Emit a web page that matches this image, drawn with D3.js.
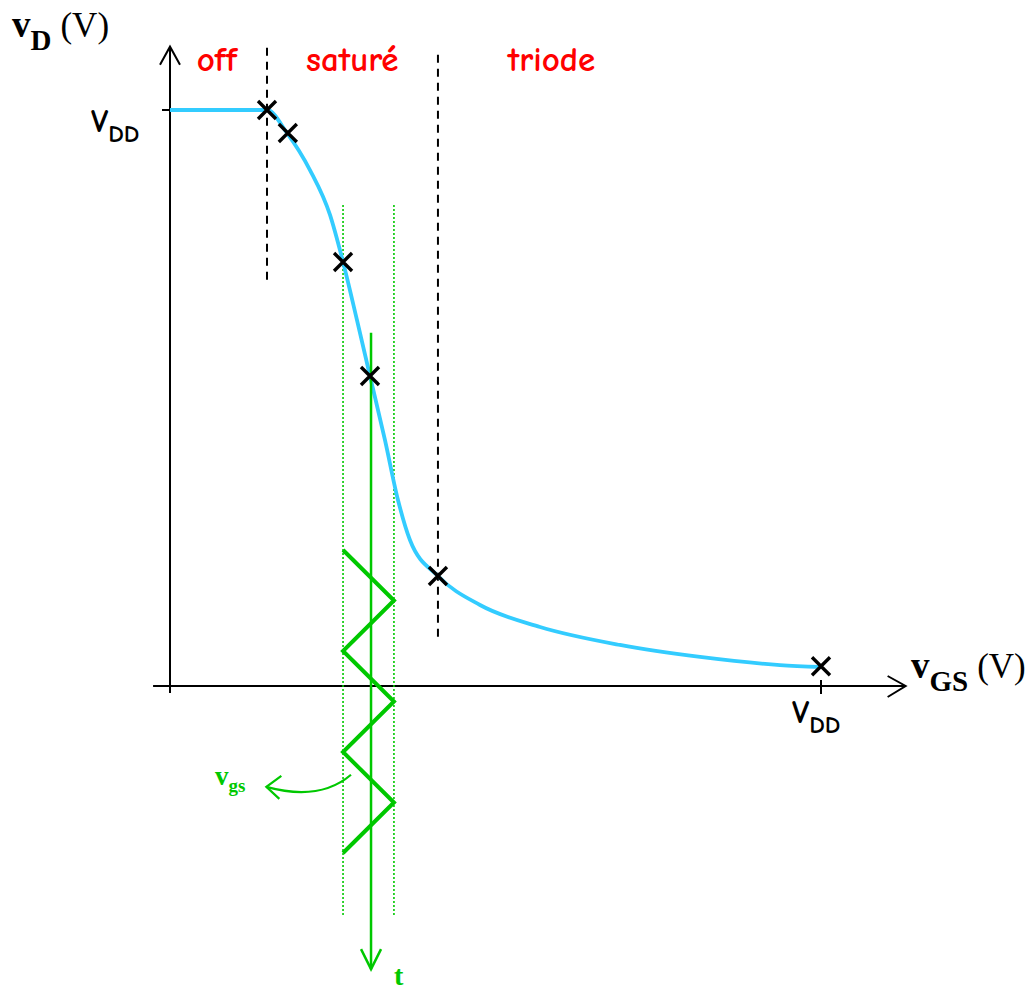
<!DOCTYPE html>
<html>
<head>
<meta charset="utf-8">
<script src="https://cdn.jsdelivr.net/npm/d3@7"></script>
<style>
  html, body { margin: 0; padding: 0; background: #fff; }
  svg { display: block; }
</style>
</head>
<body>
<script>
// Transfer characteristic vD(vGS) of an NMOS inverter, VDD = 5 V
const VDD = 5;
const curveVGS = [0, 0.745, 0.899, 1.075, 1.229, 1.329, 1.436, 1.536, 1.651, 1.751, 1.843, 2.058, 2.381, 2.842, 3.456, 4.071, 4.685, 5.0];
const curveVD  = [5, 5, 4.80, 4.479, 4.089, 3.681, 3.177, 2.691, 2.135, 1.615, 1.267, 0.955, 0.703, 0.512, 0.356, 0.252, 0.182, 0.165];
// Marked operating points
const markVGS = [0.745, 0.905, 1.329, 1.536, 2.058, 5.0];
const markVD  = [5, 4.80, 3.681, 2.691, 0.955, 0.172];
// Region boundaries and labels
const regionNames = ["off", "saturé", "triode"];
const regionLabelVGS = [0.36, 1.40, 2.93];
const boundaryVGS = [0.745, 2.058];
const boundaryTop = [5.54, 5.48];
const boundaryBottom = [3.48, 0.40];
// Small-signal input vgs (triangle wave) versus time
const waveT   = [0, 1, 2, 3, 4, 5, 6];
const waveVGS = [1.329, 1.72, 1.329, 1.72, 1.329, 1.72, 1.329];
const biasVGS = 1.544;

const W = 1036, H = 992;
const svg = d3.select("body").append("svg").attr("width", W).attr("height", H);

const x = d3.scaleLinear().domain([0, VDD]).range([170, 821]);
const y = d3.scaleLinear().domain([0, VDD]).range([686, 110]);
const t = d3.scaleLinear().domain([0, 6]).range([550, 853]);

const green = "#00c800";
const blue = "#33ccff";
const comic = "'Comic Sans MS', 'Comic Neue', 'DejaVu Sans', sans-serif";
const serif = "'Liberation Serif', 'Times New Roman', serif";

// Axes
const axes = svg.append("g").attr("stroke", "#000").attr("stroke-width", 2).attr("fill", "none");
axes.append("line").attr("x1", x(-0.13)).attr("x2", x(5.65)).attr("y1", y(0)).attr("y2", y(0));
axes.append("line").attr("x1", x(0)).attr("x2", x(0)).attr("y1", y(-0.06)).attr("y2", y(5.55));
axes.append("path").attr("d", `M${x(5.65)-18},${y(0)-10} L${x(5.65)},${y(0)} L${x(5.65)-18},${y(0)+11}`);
axes.append("path").attr("d", `M${x(0)-10},${y(5.55)+18} L${x(0)},${y(5.55)} L${x(0)+10},${y(5.55)+18}`);
// VDD ticks
axes.append("line").attr("x1", x(0) - 8).attr("x2", x(0) + 8).attr("y1", y(VDD)).attr("y2", y(VDD));
axes.append("line").attr("x1", x(VDD)).attr("x2", x(VDD)).attr("y1", y(0) - 6).attr("y2", y(0) + 8);

// Region boundaries
svg.append("g").selectAll("line").data(boundaryVGS).join("line")
  .attr("x1", d => x(d)).attr("x2", d => x(d))
  .attr("y1", (d, i) => y(boundaryTop[i])).attr("y2", (d, i) => y(boundaryBottom[i]))
  .attr("stroke", "#000").attr("stroke-width", 2).attr("stroke-dasharray", "8,6");

// Region labels
svg.append("g").selectAll("text").data(regionNames).join("text")
  .attr("x", (d, i) => x(regionLabelVGS[i])).attr("y", 71)
  .attr("text-anchor", "middle").attr("fill", "#ff0000")
  .attr("font-family", comic).attr("font-size", 35).attr("font-weight", "bold")
  .text(d => d);

// Bias window (dotted)
svg.append("g").selectAll("line").data([1.329, 1.72]).join("line")
  .attr("x1", d => x(d)).attr("x2", d => x(d))
  .attr("y1", t(-6.83)).attr("y2", t(7.23))
  .attr("stroke", green).attr("stroke-width", 1.6).attr("stroke-dasharray", "2,2");

// Transfer curve
const pts = curveVGS.map((v, i) => [v, curveVD[i]]);
svg.append("path").datum(pts)
  .attr("d", d3.line().x(d => x(d[0])).y(d => y(d[1])).curve(d3.curveMonotoneX))
  .attr("fill", "none").attr("stroke", blue).attr("stroke-width", 3.8);

// Time axis through bias point
const tx = x(biasVGS);
svg.append("line").attr("x1", tx).attr("x2", tx).attr("y1", t(-4.3)).attr("y2", t(8.3))
  .attr("stroke", green).attr("stroke-width", 2.5);
svg.append("path").attr("d", `M${tx-10},${t(8.3)-20} L${tx},${t(8.3)} L${tx+10},${t(8.3)-20}`)
  .attr("fill", "none").attr("stroke", green).attr("stroke-width", 2.5);
svg.append("text").attr("x", tx + 23).attr("y", 985).attr("fill", green)
  .attr("font-family", serif).attr("font-weight", "bold").attr("font-size", 28).text("t");

// Triangle wave vgs(t)
svg.append("path").datum(waveT.map((tt, i) => [waveVGS[i], tt]))
  .attr("d", d3.line().x(d => x(d[0])).y(d => t(d[1])))
  .attr("fill", "none").attr("stroke", green).attr("stroke-width", 4);

// vgs label and pointer
const ax0 = x(1.39), ay0 = t(4.45), ax1 = x(0.74), ay1 = t(4.69);
svg.append("path").attr("d", `M${ax0},${ay0} Q${x(1.15)},${t(4.98)} ${ax1},${ay1}`)
  .attr("fill", "none").attr("stroke", green).attr("stroke-width", 2.2);
svg.append("path").attr("d", `M${ax1+15},${ay1-11} L${ax1},${ay1} L${ax1+13},${ay1+12}`)
  .attr("fill", "none").attr("stroke", green).attr("stroke-width", 2.2);
const vgsLbl = svg.append("text").attr("x", 215).attr("y", 785).attr("fill", green)
  .attr("font-family", serif).attr("font-weight", "bold");
vgsLbl.append("tspan").attr("font-size", 27).text("v");
vgsLbl.append("tspan").attr("font-size", 19).attr("dy", 7).text("gs");

// Operating point markers
const crossSize = 9;
svg.append("g").selectAll("path").data(markVGS).join("path")
  .attr("d", (d, i) => {
    const cx = x(d), cy = y(markVD[i]), s = crossSize;
    return `M${cx-s},${cy-s} L${cx+s},${cy+s} M${cx-s},${cy+s} L${cx+s},${cy-s}`;
  })
  .attr("stroke", "#000").attr("stroke-width", 3.4).attr("fill", "none");

// Axis titles
function axisTitle(px, py, sub) {
  const g = svg.append("text").attr("x", px).attr("y", py).attr("font-family", serif).attr("fill", "#000");
  g.append("tspan").attr("font-weight", "bold").attr("font-size", 37).text("v");
  g.append("tspan").attr("font-weight", "bold").attr("font-size", 29).attr("dy", 13).text(sub);
  g.append("tspan").attr("font-size", 35).attr("dy", -13).attr("dx", 9).text("(V)");
}
axisTitle(12, 37, "D");
axisTitle(911, 678, "GS");

// VDD labels
function vdd(px, py) {
  const g = svg.append("text").attr("x", px).attr("y", py).attr("font-family", comic)
    .attr("font-weight", "bold").attr("fill", "#000");
  g.append("tspan").attr("font-size", 32).text("V");
  g.append("tspan").attr("font-size", 25).attr("dy", 10).text("DD");
}
vdd(91, 132);
vdd(792, 723);
</script>
</body>
</html>
